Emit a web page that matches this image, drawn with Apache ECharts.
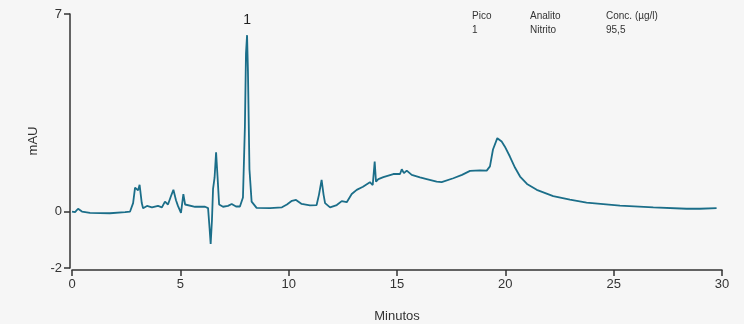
<!DOCTYPE html>
<html>
<head>
<meta charset="utf-8">
<script src="https://cdn.jsdelivr.net/npm/echarts@6/dist/echarts.min.js"></script>
<style>html,body{margin:0;padding:0;background:#f6f6f6}#c{width:744px;height:324px}</style>
</head>
<body>
<div id="c"></div>
<script>
const minutes = [0.00,0.14,0.28,0.46,0.83,1.75,2.45,2.68,2.82,2.91,3.00,3.05,3.12,3.22,3.28,3.46,3.69,3.97,4.15,4.29,4.43,4.57,4.68,4.80,4.89,5.03,5.14,5.22,5.31,5.68,6.14,6.28,6.35,6.40,6.46,6.51,6.58,6.65,6.72,6.79,6.97,7.20,7.37,7.57,7.75,7.89,7.98,8.03,8.08,8.12,8.19,8.29,8.52,9.14,9.69,9.92,10.15,10.34,10.60,10.98,11.29,11.40,11.52,11.61,11.68,11.91,12.22,12.45,12.68,12.91,13.14,13.20,13.43,13.75,13.88,13.97,14.03,14.14,14.37,14.83,15.14,15.22,15.32,15.45,15.68,16.06,16.37,16.83,17.06,17.60,18.00,18.37,18.83,19.14,19.29,19.43,19.63,19.83,19.98,20.21,20.45,20.68,21.00,21.45,22.21,22.98,23.75,25.29,26.83,28.37,28.98,29.75];
const mAU = [0.00,-0.02,0.10,0.00,-0.05,-0.06,-0.02,0.00,0.30,0.85,0.90,0.75,0.95,0.30,0.12,0.20,0.15,0.20,0.15,0.35,0.25,0.55,0.77,0.40,0.20,-0.05,0.62,0.25,0.20,0.17,0.17,0.12,-0.60,-1.15,-0.30,0.80,1.20,2.10,1.20,0.25,0.17,0.20,0.27,0.18,0.18,0.50,3.00,5.60,6.25,5.00,1.50,0.35,0.13,0.12,0.15,0.25,0.38,0.41,0.27,0.22,0.23,0.60,1.12,0.60,0.30,0.15,0.23,0.37,0.33,0.62,0.77,0.73,0.88,1.04,0.94,1.77,1.06,1.15,1.22,1.33,1.33,1.50,1.36,1.45,1.30,1.21,1.15,1.06,1.04,1.18,1.30,1.44,1.46,1.45,1.60,2.20,2.60,2.48,2.30,1.95,1.55,1.24,0.98,0.77,0.55,0.42,0.32,0.21,0.15,0.10,0.10,0.12];
const xTicks = [0,5,10,15,20,25,30];
const yTicks = [-2,0,7];
const peakLabels = [{name:'1', t:8.08, v:6.25}];
const tableHeader = ['Pico','Analito','Conc. (µg/l)'];
const tableRow = ['1','Nitrito','95,5'];

const FONT = '"Liberation Sans", Arial, sans-serif';
const chart = echarts.init(document.getElementById('c'));
const colX = [472, 530, 606];
const graphics = [];
[tableHeader, tableRow].forEach((row, r) => {
  row.forEach((txt, i) => {
    graphics.push({type:'text', left: colX[i], top: 11 + r*14,
      style:{text: txt, fill:'#333', font: '10px ' + FONT}});
  });
});
chart.setOption({
  backgroundColor: '#f6f6f6',
  animation: false,
  grid: {left: 72, right: 22, top: 14, bottom: 56, outerBoundsMode: 'none', containLabel: false},
  xAxis: {
    type: 'value', min: 0, max: 30, interval: 5, offset: 2,
    name: 'Minutos', nameLocation: 'middle', nameGap: 40,
    nameTextStyle: {color:'#333', fontSize: 13, fontFamily: FONT},
    axisLine: {show: true, onZero: false, lineStyle: {color:'#333', width: 1.5}},
    axisTick: {show: true, length: 6, customValues: xTicks, lineStyle: {color:'#333', width: 1.5}},
    axisLabel: {color:'#333', fontSize: 13, fontFamily: FONT, margin: 8, customValues: xTicks},
    splitLine: {show: false}
  },
  yAxis: {
    type: 'value', min: -2, max: 7, offset: 2,
    name: 'mAU', nameLocation: 'middle', nameGap: 27, nameRotate: 90,
    nameTextStyle: {color:'#333', fontSize: 13, fontFamily: FONT},
    axisLine: {show: true, onZero: false, lineStyle: {color:'#333', width: 1.5}},
    axisTick: {show: true, length: 6, customValues: yTicks, lineStyle: {color:'#333', width: 1.5}},
    axisLabel: {color:'#333', fontSize: 13, fontFamily: FONT, margin: 8, customValues: yTicks},
    splitLine: {show: false}
  },
  graphic: graphics,
  series: [{
    type: 'line',
    data: minutes.map((t, i) => [t, mAU[i]]),
    showSymbol: false,
    smooth: false,
    lineStyle: {color: '#1b6e89', width: 1.8},
    itemStyle: {color: '#1b6e89'},
    markPoint: {
      symbol: 'circle', symbolSize: 0,
      label: {show: true, position: 'top', distance: 8, color:'#222', fontSize: 14, fontFamily: FONT, formatter: p => p.name},
      data: peakLabels.map(p => ({name: p.name, coord: [p.t, p.v]}))
    }
  }]
});
</script>
</body>
</html>
